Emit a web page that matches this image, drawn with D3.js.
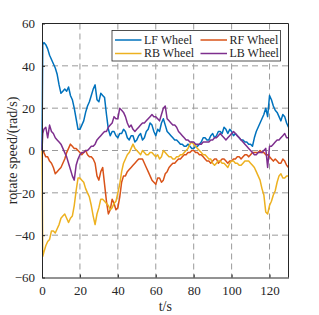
<!DOCTYPE html>
<html>
<head>
<meta charset="utf-8">
<script src="https://cdn.jsdelivr.net/npm/d3@7"></script>
<style>
  body { margin: 0; background: #fff; }
  text { font-family: "Liberation Serif", "DejaVu Serif", serif; }
</style>
</head>
<body>
<div id="chart"></div>
<script>
// data (one sample per second, plus the jump right after t = 0)
var time = [0, 0.4].concat(d3.range(1, 131));

var lf = [0, 50,
  51, 50, 48, 45, 43, 41, 39, 36, 31, 27, 28, 29, 28, 30, 26, 24, 20, 15, 10, 10,
  12, 14, 18, 21, 23, 26, 29, 31, 24, 23, 27, 26, 25, 17, 10, 7, 9, 9, 7, 6,
  8, 8, 10, 9, 6, 5, 7, 7, 4, 5, 7, 8, 5, 6, 9, 10, 13, 12, 9, 7,
  10, 9, 13, 15, 12, 9, 8, 7, 6, 5, 5, 4, 3, 3, 2, 2, 3, 2, 1, 1,
  2, 2, 3, 4, 6, 6, 5, 5, 7, 8, 6, 7, 9, 9, 8, 11, 10, 8, 10, 9,
  7, 8, 7, 6, 5, 5, 4, 4, 3, 3, 2, 6, 9, 11, 13, 15, 17, 20, 16, 26,
  24, 21, 19, 18, 16, 14, 17, 16, 13, 11];
var rf = [0, 0,
  -1, -3, -3, -5, -6, -8, -11, -10, -9, -8, -6, -4, -1, 1, 3, 2, 1, 1, 0, -1,
  -2, -1, 0, -2, -3, -3, -4, -6, -12, -14, -10, -8, -16, -24, -30, -28, -23, -25, -28, -27,
  -22, -15, -12, -12, -10, -9, -8, -7, -6, -5, -4, -4, -4, -6, -8, -10, -12, -14, -15, -16,
  -13, -13, -15, -14, -11, -10, -8, -7, -6, -6, -5, -4, -4, -3, -2, -2, -1, -1, 0, 0,
  -1, -1, -2, -2, -3, -4, -5, -5, -6, -5, -4, -4, -6, -5, -4, -4, -5, -6, -5, -5,
  -4, -4, -3, -3, -4, -3, -2, -2, -3, -2, -1, -1, -1, -1, 0, -1, -1, -2, -2, -3,
  -4, -5, -4, -5, -6, -6, -4, -5, -7, -8];
var rb = [0, -50,
  -48, -45, -43, -42, -38, -38, -39, -37, -35, -32, -31, -30, -32, -34, -32, -31, -26, -19, -13, -13,
  -14, -15, -18, -20, -22, -26, -31, -35, -30, -27, -23, -23, -24, -25, -26, -28, -27, -25, -24, -20,
  -16, -10, -6, -4, -2, -1, 1, 3, 1, 0, -1, -2, 0, -1, -2, -2, -1, -1, -2, -3,
  -2, -4, -3, 0, -1, -2, -3, -3, -4, -4, -3, -3, -2, -2, -1, 0, 1, 3, 4, 3,
  2, 1, 0, -1, -2, -2, -3, -4, -4, -6, -7, -6, -5, -5, -6, -6, -7, -8, -6, -5,
  -5, -6, -6, -7, -7, -6, -5, -5, -5, -6, -7, -8, -10, -12, -14, -18, -21, -29, -30, -26,
  -24, -21, -19, -15, -12, -11, -13, -13, -12, -12];
var lb = [0, 8,
  10, 11, 6, 12, 9, 8, 6, 5, 4, 3, 1, -1, -3, -6, -9, -12, -14, -7, -4, -2,
  -1, -1, 0, 0, 1, 2, 2, 3, 5, 6, 7, 8, 9, 9, 11, 12, 13, 16, 15, 15,
  20, 19, 18, 16, 13, 11, 12, 10, 9, 10, 11, 12, 13, 13, 14, 15, 16, 17, 16, 16,
  15, 14, 17, 20, 21, 15, 14, 13, 12, 12, 11, 9, 8, 7, 6, 5, 5, 4, 4, 4,
  3, 3, 3, 3, 4, 4, 4, 4, 5, 5, 6, 6, 7, 8, 7, 6, 5, 6, 7, 8,
  9, 8, 7, 6, 5, 4, 3, 2, 1, 0, -1, -2, -2, -1, -1, -1, 0, 1, -8, 2,
  2, 3, 4, 5, 5, 6, 7, 8, 6, 6];

var names = ["LF Wheel", "RF Wheel", "RB Wheel", "LB Wheel"];
var colors = ["#0072BD", "#D95319", "#EDB120", "#7E2F8E"];
var series = [lf, rf, rb, lb];

var xTicks = [0, 20, 40, 60, 80, 100, 120];
var yTicks = [-60, -40, -20, 0, 20, 40, 60];

// set dimensions
var width = 319, height = 315;
var mLeft = 42, mRight = 288.5, mTop = 23.5, mBottom = 277.5;

var svg = d3.select("#chart")
            .append("svg")
            .attr("width", width)
            .attr("height", height);

var x = d3.scaleLinear().domain([0, 130]).range([mLeft, mRight]);
var y = d3.scaleLinear().domain([-60, 60]).range([mBottom, mTop]);

// grid
svg.append("g").selectAll("line")
   .data(xTicks.slice(1))
   .enter().append("line")
   .attr("x1", d => x(d)).attr("x2", d => x(d))
   .attr("y1", mTop).attr("y2", mBottom)
   .attr("stroke", "#9a9a9a").attr("stroke-width", 1)
   .attr("stroke-dasharray", "6,4");
svg.append("g").selectAll("line")
   .data(yTicks.slice(1, -1))
   .enter().append("line")
   .attr("x1", mLeft).attr("x2", mRight)
   .attr("y1", d => y(d)).attr("y2", d => y(d))
   .attr("stroke", "#9a9a9a").attr("stroke-width", 1)
   .attr("stroke-dasharray", "6,4");

// lines
var line = d3.line()
             .x((d, i) => x(time[i]))
             .y(d => y(d));

svg.append("g").selectAll("path")
   .data(series)
   .enter().append("path")
   .attr("d", line)
   .attr("fill", "none")
   .attr("stroke", (d, i) => colors[i])
   .attr("stroke-width", 1.5)
   .attr("stroke-linejoin", "round");

// axes (matlab style box, ticks inward)
var xAxis = svg.append("g")
   .attr("transform", "translate(0," + mBottom + ")")
   .call(d3.axisBottom(x).tickValues(xTicks).tickSizeInner(-3).tickSizeOuter(0).tickPadding(8));
var yAxis = svg.append("g")
   .attr("transform", "translate(" + mLeft + ",0)")
   .call(d3.axisLeft(y).tickValues(yTicks).tickSizeInner(-3).tickSizeOuter(0).tickPadding(7));
[xAxis, yAxis].forEach(function(g){
  g.select(".domain").attr("stroke", "#262626");
  g.selectAll(".tick line").attr("stroke", "#262626");
  g.selectAll("text").attr("font-size", "13px").attr("fill", "#262626")
   .attr("font-family", "Liberation Serif");
});
svg.append("path")
   .attr("d", "M" + mLeft + "," + mTop + "H" + mRight + "V" + mBottom)
   .attr("fill", "none").attr("stroke", "#262626");

// axis titles
svg.append("text")
   .attr("x", (mLeft + mRight) / 2)
   .attr("y", 311)
   .attr("text-anchor", "middle")
   .attr("font-size", "14px")
   .attr("fill", "#262626")
   .text("t/s");
svg.append("text")
   .attr("transform", "translate(17," + ((mTop + mBottom) / 2) + ") rotate(-90)")
   .attr("text-anchor", "middle")
   .attr("font-size", "14px")
   .attr("fill", "#262626")
   .text("rotate speed/(rad/s)");

// legend
var legend = svg.append("g");
legend.append("rect")
      .attr("x", 112).attr("y", 30.5)
      .attr("width", 168.5).attr("height", 30.5)
      .attr("fill", "#fff").attr("stroke", "#262626").attr("stroke-width", 0.8);
var items = legend.selectAll("g.item")
      .data(names)
      .enter().append("g")
      .attr("transform", (d, i) => "translate(" + (i % 2 === 0 ? 115 : 200.5) + "," + (i < 2 ? 40 : 53.5) + ")");
items.append("line")
     .attr("x1", 0).attr("x2", 26.5)
     .attr("stroke", (d, i) => colors[i]).attr("stroke-width", 1.5);
items.append("text")
     .attr("x", 29)
     .attr("dy", "0.33em")
     .attr("font-size", "12px")
     .attr("fill", "#262626")
     .text(d => d);
</script>
</body>
</html>
